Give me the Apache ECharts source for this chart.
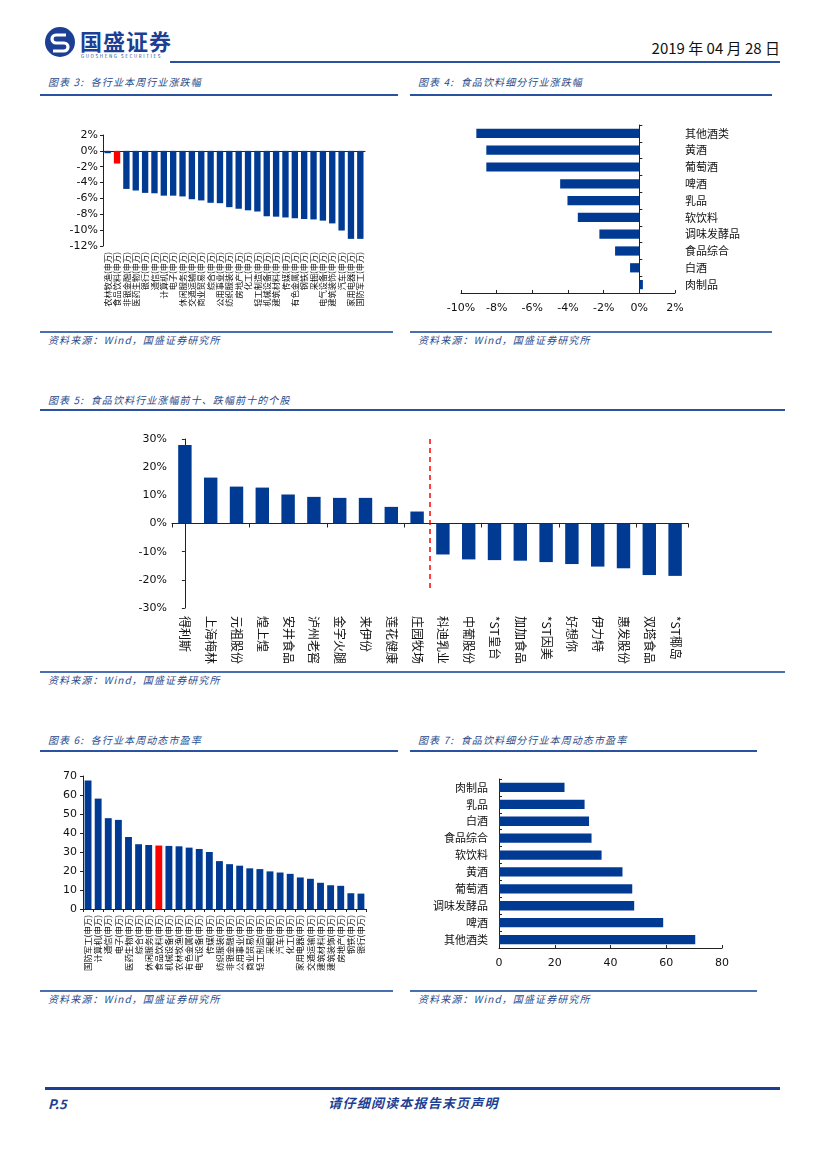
<!DOCTYPE html>
<html><head><meta charset="utf-8">
<script src="https://cdn.jsdelivr.net/npm/echarts/dist/echarts.min.js"></script>
<style>
body{margin:0;background:#fff;}
#page{position:relative;width:827px;height:1169px;overflow:hidden;font-family:"Noto Sans CJK SC","DejaVu Sans",sans-serif;}
.abs{position:absolute;}
.ttl{font-size:10px;font-style:italic;color:#2b4a8a;white-space:nowrap;letter-spacing:1.1px;}
.src{font-size:10px;font-style:italic;color:#2b4a8a;white-space:nowrap;letter-spacing:1.1px;}
.ln{background:#2a52a0;height:2px;}
.thin{background:#4a6fb0;height:1.5px;}
.ch{position:absolute;}
</style></head>
<body><div id="page">
<svg class="abs" style="left:44px;top:26px" width="32" height="32" viewBox="0 0 32 32">
<circle cx="16" cy="16" r="15" fill="#1c3f94"/>
<path d="M22 9 H12 a4 4 0 0 0 0 8 H20 a4 4 0 0 1 0 8 H9" stroke="#fff" stroke-width="3.2" fill="none"/>
</svg>
<div class="abs" style="left:80px;top:24px;font-size:22px;font-weight:bold;color:#1c3f94;letter-spacing:1px">国盛证券</div>
<div class="abs" style="left:81px;top:53px;font-size:4.5px;color:#1c3f94;letter-spacing:1.6px">GUOSHENG SECURITIES</div>
<div class="abs ln" style="left:170px;top:61px;width:610px;"></div>
<div class="abs" style="right:47px;top:37px;font-size:15px;color:#111;">2019 年 04 月 28 日</div>

<div class="abs ttl" style="left:48px;top:74px">图表 3:&nbsp; 各行业本周行业涨跌幅</div>
<div class="abs ln" style="left:40px;top:94px;width:358px"></div>
<div class="abs ttl" style="left:418px;top:74px">图表 4:&nbsp; 食品饮料细分行业涨跌幅</div>
<div class="abs ln" style="left:410px;top:94px;width:362px"></div>
<div class="abs thin" style="left:40px;top:331px;width:353px"></div>
<div class="abs thin" style="left:410px;top:331px;width:362px"></div>
<div class="abs src" style="left:48px;top:332px">资料来源：Wind，国盛证券研究所</div>
<div class="abs src" style="left:418px;top:332px">资料来源：Wind，国盛证券研究所</div>

<div class="abs ttl" style="left:48px;top:392px">图表 5:&nbsp; 食品饮料行业涨幅前十、跌幅前十的个股</div>
<div class="abs ln" style="left:40px;top:409px;width:745px"></div>
<div class="abs thin" style="left:40px;top:671px;width:745px"></div>
<div class="abs src" style="left:48px;top:672px">资料来源：Wind，国盛证券研究所</div>

<div class="abs ttl" style="left:48px;top:732px">图表 6:&nbsp; 各行业本周动态市盈率</div>
<div class="abs ln" style="left:40px;top:750px;width:358px"></div>
<div class="abs ttl" style="left:418px;top:732px">图表 7:&nbsp; 食品饮料细分行业本周动态市盈率</div>
<div class="abs ln" style="left:410px;top:750px;width:347px"></div>
<div class="abs thin" style="left:40px;top:990px;width:353px"></div>
<div class="abs thin" style="left:410px;top:990px;width:347px"></div>
<div class="abs src" style="left:48px;top:991px">资料来源：Wind，国盛证券研究所</div>
<div class="abs src" style="left:418px;top:991px">资料来源：Wind，国盛证券研究所</div>

<div class="abs" style="left:45px;top:1087px;width:735px;height:3px;background:#1c3f94"></div>
<div class="abs" style="left:48px;top:1094px;font-size:13px;font-weight:bold;font-style:italic;color:#1c3f94">P.5</div>
<div class="abs" style="left:0;top:1093px;width:827px;text-align:center;font-size:13px;font-weight:bold;font-style:italic;color:#1c3f94;letter-spacing:1.2px">请仔细阅读本报告末页声明</div>

<div id="c3" class="ch" style="left:40px;top:120px;width:340px;height:200px"></div>
<div id="c4" class="ch" style="left:410px;top:120px;width:370px;height:205px"></div>
<div id="c5" class="ch" style="left:40px;top:420px;width:745px;height:250px"></div>
<div id="c6" class="ch" style="left:40px;top:760px;width:340px;height:228px"></div>
<div id="c7" class="ch" style="left:410px;top:760px;width:370px;height:228px"></div>
</div>
<script>
// ---- data ----
const ind3 = ['农林牧渔(申万)','食品饮料(申万)','非银金融(申万)','医药生物(申万)','银行(申万)','通信(申万)','计算机(申万)','电子(申万)','休闲服务(申万)','交通运输(申万)','商业贸易(申万)','综合(申万)','公用事业(申万)','纺织服装(申万)','房地产(申万)','化工(申万)','轻工制造(申万)','机械设备(申万)','建筑材料(申万)','传媒(申万)','有色金属(申万)','钢铁(申万)','采掘(申万)','电气设备(申万)','建筑装饰(申万)','汽车(申万)','家用电器(申万)','国防军工(申万)'];
const chg3 = [-0.3,-1.6,-4.8,-5.0,-5.3,-5.35,-5.65,-5.65,-5.75,-6.1,-6.25,-6.55,-6.6,-7.1,-7.3,-7.5,-7.65,-8.25,-8.3,-8.4,-8.5,-8.6,-8.65,-8.8,-9.15,-10.05,-11.1,-11.1];
const highlight3 = '食品饮料(申万)';

const sub4 = ['肉制品','白酒','食品综合','调味发酵品','软饮料','乳品','啤酒','葡萄酒','黄酒','其他酒类'];
const chg4 = [0.2,-0.52,-1.36,-2.24,-3.45,-4.03,-4.44,-8.58,-8.58,-9.14];

const stocks5 = ['得利斯','上海梅林','元祖股份','煌上煌','安井食品','泸州老窖','金字火腿','来伊份','莲花健康','庄园牧场','科迪乳业','中葡股份','*ST皇台','加加食品','*ST因美','好想你','伊力特','惠发股份','双塔食品','*ST椰岛'];
const chg5 = [27.9,16.3,13.1,12.75,10.3,9.45,9.1,9.1,5.9,4.25,-11.0,-12.75,-13.0,-13.2,-13.7,-14.4,-15.3,-15.9,-18.3,-18.6];
const divider5 = [[9.5,30],[9.5,-24]];

const ind6 = ['国防军工(申万)','计算机(申万)','通信(申万)','电子(申万)','医药生物(申万)','综合(申万)','休闲服务(申万)','食品饮料(申万)','机械设备(申万)','农林牧渔(申万)','有色金属(申万)','电气设备(申万)','传媒(申万)','纺织服装(申万)','非银金融(申万)','公用事业(申万)','商业贸易(申万)','轻工制造(申万)','采掘(申万)','汽车(申万)','化工(申万)','家用电器(申万)','交通运输(申万)','建筑材料(申万)','建筑装饰(申万)','房地产(申万)','钢铁(申万)','银行(申万)'];
const pe6 = [67.6,58.1,47.8,46.9,37.9,34.1,33.7,33.4,33.2,33.0,32.3,31.6,30.0,25.2,23.6,22.8,21.4,21.0,19.8,19.2,18.5,16.6,15.9,13.8,12.5,12.2,8.3,8.1];

const sub7 = ['其他酒类','啤酒','调味发酵品','葡萄酒','黄酒','软饮料','食品综合','白酒','乳品','肉制品'];
const pe7 = [70.4,58.9,48.5,47.8,44.3,36.8,33.2,32.3,30.7,23.5];

// ---- style ----
const BLUE = '#003a93', RED = '#ff0000';
const NUMF = '"DejaVu Sans",Verdana,sans-serif';
const CJK = '"Noto Sans CJK SC",sans-serif';
const axLine = {lineStyle:{color:'#222',width:1}};

function colored(cats, vals, hl){
  return vals.map((v,i)=>({value:v,itemStyle:{color:cats[i]===hl?RED:BLUE}}));
}

// Chart 3
echarts.init(document.getElementById('c3')).setOption({
  animation:false,
  grid:{left:63,top:15,width:262,height:111},
  xAxis:[
    {type:'category',data:ind3,axisLine:{onZero:true,...axLine},axisTick:{show:false},axisLabel:{show:false}},
    {type:'category',data:ind3,position:'bottom',axisLine:{show:false},axisTick:{show:false},
     axisLabel:{rotate:90,interval:0,fontSize:8.2,color:'#111',fontFamily:CJK,margin:6}}
  ],
  yAxis:{type:'value',min:-12,max:2,interval:2,splitLine:{show:false},
    axisLine:{show:true,...axLine},axisTick:{show:true,length:3,lineStyle:{color:'#222'}},
    axisLabel:{formatter:'{value}%',fontSize:11,color:'#111',fontFamily:NUMF,margin:5}},
  series:[{type:'bar',xAxisIndex:0,data:colored(ind3,chg3,highlight3),barCategoryGap:'32%'}]
});

// Chart 4
echarts.init(document.getElementById('c4')).setOption({
  animation:false,
  grid:{left:51,top:5,width:214,height:168},
  xAxis:{type:'value',min:-10,max:2,interval:2,splitLine:{show:false},
    axisLine:{show:true,onZero:false,...axLine},axisTick:{show:true,inside:true,length:3,lineStyle:{color:'#222'}},
    axisLabel:{formatter:'{value}%',fontSize:11,color:'#111',fontFamily:NUMF,margin:10}},
  yAxis:[
    {type:'category',data:sub4,position:'right',axisLine:{onZero:true,...axLine},
     axisTick:{show:true,length:3,lineStyle:{color:'#222'}},axisLabel:{show:false}},
    {type:'category',data:sub4,position:'right',offset:0,axisLine:{show:false,onZero:false},axisTick:{show:false},
     axisLabel:{fontSize:11,color:'#111',fontFamily:CJK,margin:10}}
  ],
  series:[{type:'bar',yAxisIndex:0,data:chg4,itemStyle:{color:BLUE},barCategoryGap:'45%'}]
});

// Chart 5
echarts.init(document.getElementById('c5')).setOption({
  animation:false,
  grid:{left:132,top:19,width:516,height:169},
  xAxis:[
    {type:'category',data:stocks5,axisLine:{onZero:true,...axLine},
     axisTick:{show:true,length:4,lineStyle:{color:'#222'}},axisLabel:{show:false}},
    {type:'category',data:stocks5,position:'bottom',axisLine:{show:false},axisTick:{show:false},
     axisLabel:{rotate:-90,interval:0,fontSize:12,color:'#111',fontFamily:CJK,margin:8}},
    {type:'value',min:-0.5,max:19.5,show:false}
  ],
  yAxis:{type:'value',min:-30,max:30,interval:10,splitLine:{show:false},
    axisLine:{show:true,...axLine},axisTick:{show:true,length:3,lineStyle:{color:'#222'}},
    axisLabel:{formatter:'{value}%',fontSize:11,color:'#111',fontFamily:NUMF,margin:5}},
  series:[
    {type:'bar',xAxisIndex:0,data:chg5,itemStyle:{color:BLUE},barCategoryGap:'48%'},
    {type:'line',xAxisIndex:2,data:divider5,symbol:'none',lineStyle:{color:RED,width:1.5,type:[5,4]}}
  ]
});

// Chart 6
echarts.init(document.getElementById('c6')).setOption({
  animation:false,
  grid:{left:43,top:16,width:283,height:133},
  xAxis:{type:'category',data:ind6,axisLine:{...axLine},axisTick:{show:true,length:3,lineStyle:{color:'#222'}},
     axisLabel:{rotate:90,interval:0,fontSize:8.4,color:'#111',fontFamily:CJK,margin:6}},
  yAxis:{type:'value',min:0,max:70,interval:10,splitLine:{show:false},
    axisLine:{show:true,...axLine},axisTick:{show:true,length:3,lineStyle:{color:'#222'}},
    axisLabel:{fontSize:11,color:'#111',fontFamily:NUMF,margin:6}},
  series:[{type:'bar',data:colored(ind6,pe6,highlight3),barCategoryGap:'32%'}]
});

// Chart 7
echarts.init(document.getElementById('c7')).setOption({
  animation:false,
  grid:{left:89,top:19,width:223,height:169},
  xAxis:{type:'value',min:0,max:80,interval:20,splitLine:{show:false},
    axisLine:{show:true,...axLine},axisTick:{show:true,inside:true,length:3,lineStyle:{color:'#222'}},
    axisLabel:{fontSize:11,color:'#111',fontFamily:NUMF,margin:10}},
  yAxis:{type:'category',data:sub7,axisLine:{...axLine},axisTick:{show:true,inside:true,length:3,lineStyle:{color:'#222'}},
    axisLabel:{fontSize:11,color:'#111',fontFamily:CJK,margin:11}},
  series:[{type:'bar',data:pe7,itemStyle:{color:BLUE},barCategoryGap:'45%'}]
});
</script>
</body></html>
